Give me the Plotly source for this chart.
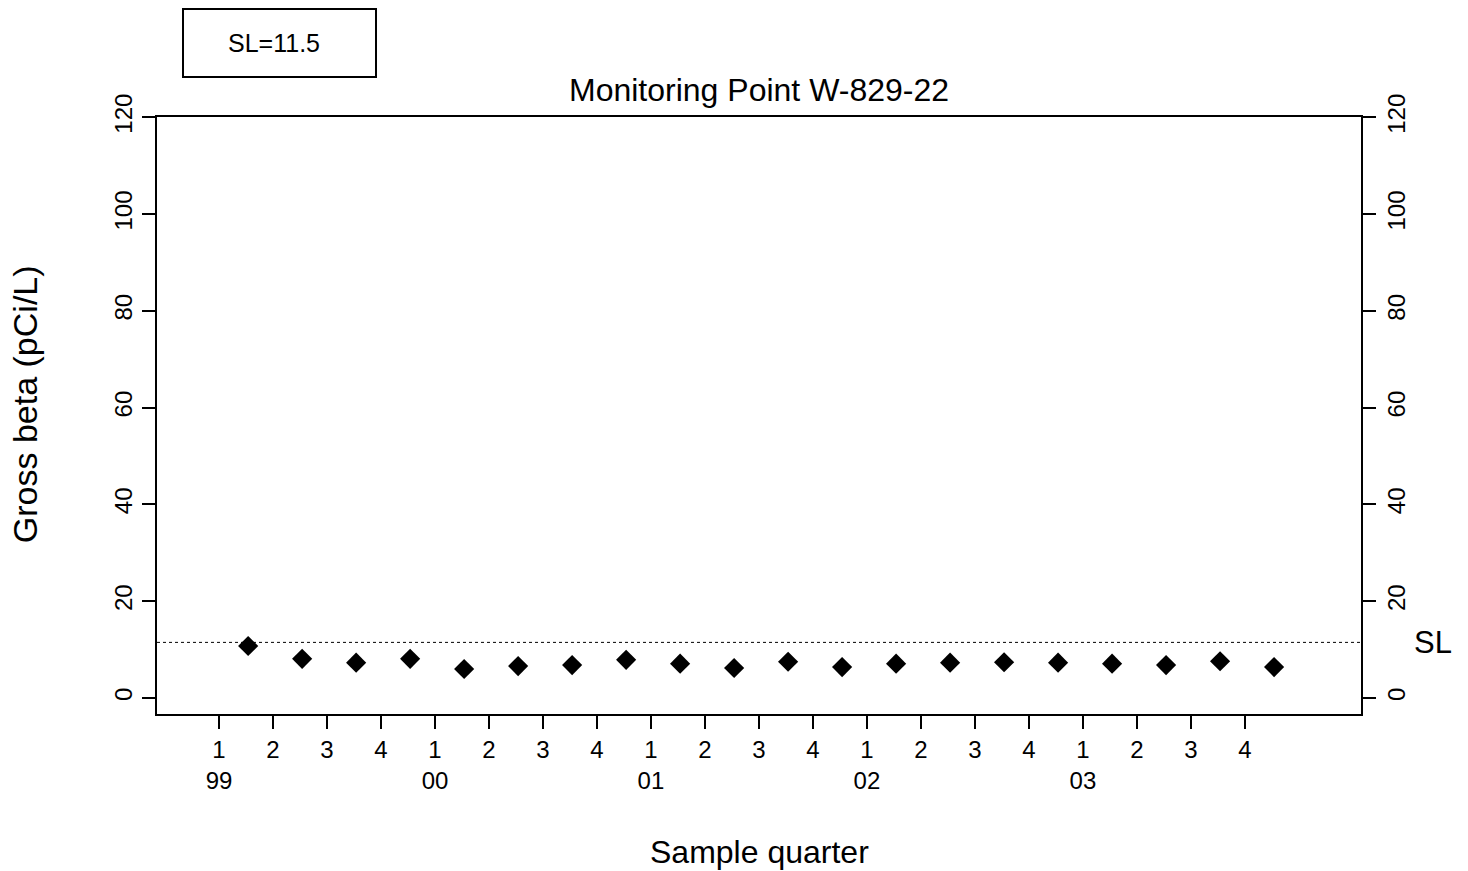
import plotly.graph_objects as go

# ---- data ----
years = ["99", "00", "01", "02", "03"]
quarters = [1, 2, 3, 4]
sample_pos = [1.54, 2.54, 3.54, 4.54, 5.54, 6.54, 7.54, 8.54, 9.54, 10.54,
              11.54, 12.54, 13.54, 14.54, 15.54, 16.54, 17.54, 18.54, 19.54, 20.54]
gross_beta = [10.75, 8.1, 7.3, 8.1, 6.0, 6.6, 6.8, 7.9, 7.1, 6.2,
              7.5, 6.4, 7.1, 7.3, 7.4, 7.3, 7.1, 6.8, 7.6, 6.4]
sl_value = 11.5
y_ticks = [0, 20, 40, 60, 80, 100, 120]

FONT = "Liberation Sans, Arial, Helvetica, sans-serif"

tick_vals = []
tick_text = []
k = 1
for y in years:
    for q in quarters:
        tick_vals.append(k)
        tick_text.append(f"{q}<br>{y}" if q == 1 else str(q))
        k += 1

fig = go.Figure()
fig.add_trace(go.Scatter(
    x=sample_pos, y=gross_beta, mode="markers",
    marker=dict(symbol="diamond", size=15.5, color="black"),
    showlegend=False, hoverinfo="x+y"))
# invisible trace so the right axis is drawn
fig.add_trace(go.Scatter(x=[sample_pos[0]], y=[gross_beta[0]], yaxis="y2",
                         mode="markers", marker=dict(opacity=0),
                         showlegend=False, hoverinfo="skip"))

# SL dotted line
fig.add_shape(type="line", xref="paper", yref="y", x0=0, x1=1,
              y0=sl_value, y1=sl_value, line=dict(color="black", width=1, dash="dot"))

# SL box
fig.add_shape(type="rect", xref="paper", yref="paper",
              x0=0.0216, x1=0.1819, y0=1.067, y1=1.1809,
              line=dict(color="black", width=2), fillcolor="white")
fig.add_annotation(xref="paper", yref="paper", x=0.0972, y=1.124,
                   text=f"SL={sl_value}", showarrow=False,
                   font=dict(family=FONT, size=25, color="black"),
                   xanchor="center", yanchor="middle")

# Title
fig.add_annotation(xref="paper", yref="paper", x=0.5, y=1.0452,
                   text="Monitoring Point W-829-22", showarrow=False,
                   font=dict(family=FONT, size=32, color="black"),
                   xanchor="center", yanchor="middle")
# axis titles
fig.add_annotation(xref="paper", yref="paper", x=0.5, y=-0.2312,
                   text="Sample quarter", showarrow=False,
                   font=dict(family=FONT, size=32, color="black"),
                   xanchor="center", yanchor="middle")
fig.add_annotation(xref="paper", yref="paper", x=-0.1096, y=0.519,
                   text="Gross beta (pCi/L)", showarrow=False, textangle=-90,
                   font=dict(family=FONT, size=34, color="black"),
                   xanchor="center", yanchor="middle")
# SL label on right
fig.add_annotation(xref="paper", yref="y", x=1.0598, y=sl_value,
                   text="SL", showarrow=False,
                   font=dict(family=FONT, size=31, color="black"),
                   xanchor="center", yanchor="middle")

yrange = [-3.3, 120.06]
axis_common = dict(showgrid=False, zeroline=False, ticks="outside", ticklen=13,
                   tickwidth=2, tickcolor="black", linecolor="black", linewidth=2,
                   tickfont=dict(family=FONT, size=24, color="black"))

fig.update_layout(
    width=1468, height=871,
    margin=dict(l=157, r=107, t=117, b=157),
    paper_bgcolor="white", plot_bgcolor="white",
    xaxis=dict(range=[-0.148, 22.15], tickvals=tick_vals, ticktext=tick_text,
               showline=True, mirror=True, tickangle=0, **axis_common),
    yaxis=dict(range=yrange, tickvals=y_ticks, ticktext=[str(v) for v in y_ticks],
               showline=True, mirror=True, tickangle=-90, **axis_common),
    yaxis2=dict(range=yrange, tickvals=y_ticks, ticktext=[str(v) for v in y_ticks],
                overlaying="y", side="right", showline=True, tickangle=-90,
                **axis_common),
    font=dict(family=FONT, color="black"),
)

fig.write_html("out.html")
